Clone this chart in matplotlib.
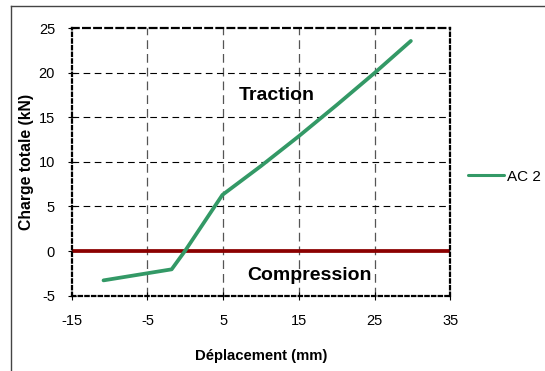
import matplotlib
matplotlib.use("Agg")
import matplotlib.pyplot as plt
from matplotlib.lines import Line2D

plt.rcParams['font.family'] = ['Liberation Sans', 'DejaVu Sans']
plt.rcParams['axes.unicode_minus'] = False

# load-displacement curve
deplacement = [-10.8, -5, -1.8, 0, 4.9, 10, 15, 20, 25, 29.8]
charge = [-3.3, -2.5, -2.06, 0.05, 6.3, 9.55, 12.9, 16.4, 20.0, 23.6]
serie = "AC 2"

xticks = [-15, -5, 5, 15, 25, 35]
yticks = [-5, 0, 5, 10, 15, 20, 25]

fig = plt.figure(figsize=(5.45, 3.71), dpi=100)
ax = fig.add_axes([0.1316, 0.2035, 0.6945, 0.7197])

# outer chart frame (left and top edges visible)
fig.add_artist(Line2D([0.021, 0.021], [0.0, 0.984], color='#444444', lw=1.0, transform=fig.transFigure))
fig.add_artist(Line2D([0.021, 1.0], [0.984, 0.984], color='#444444', lw=1.0, transform=fig.transFigure))

ax.set_xlim(-15, 35)
ax.set_ylim(-5, 25)
ax.set_xticks(xticks)
ax.set_yticks(yticks)

for x in xticks[1:-1]:
    ax.axvline(x, color='#555555', lw=0.9, ls=(0, (7, 4)), zorder=1)
for y in yticks[2:-1]:
    ax.axhline(y, color='black', lw=0.8, ls=(0, (6, 4)), zorder=1)

ax.axhline(0, color='#8b0000', lw=2.7, zorder=2)
ax.plot(deplacement, charge, color='#339966', lw=2.7, label=serie, zorder=3,
        solid_capstyle='round')

for side in ['left', 'bottom', 'right']:
    ax.spines[side].set_linestyle((0, (1.5, 1.5)))
    ax.spines[side].set_linewidth(1.6)
ax.spines['top'].set_linestyle((0, (3, 2)))
ax.spines['top'].set_linewidth(1.6)

ax.tick_params(direction='inout', length=6, width=0.8, labelsize=10.5)
ax.tick_params(axis='x', pad=10.5)
ax.tick_params(axis='y', pad=9)

ax.text(12.1, 17.5, "Traction", fontsize=14, fontweight='bold', ha='center', va='center')
ax.text(16.4, -2.73, "Compression", fontsize=14, fontweight='bold', ha='center', va='center')

ax.set_xlabel("Déplacement (mm)", fontsize=10.7, fontweight='bold', labelpad=15)
ax.set_ylabel("Charge totale (kN)", fontsize=11.3, fontweight='bold', labelpad=3.5)

leg = ax.legend(loc='center left', bbox_to_anchor=(1.046, 0.445), frameon=False,
                borderaxespad=0, borderpad=0, fontsize=11,
                handlelength=2.4, handletextpad=0.2)
leg.get_lines()[0].set_linewidth(2.2)

fig.savefig("out.png", dpi=100)
